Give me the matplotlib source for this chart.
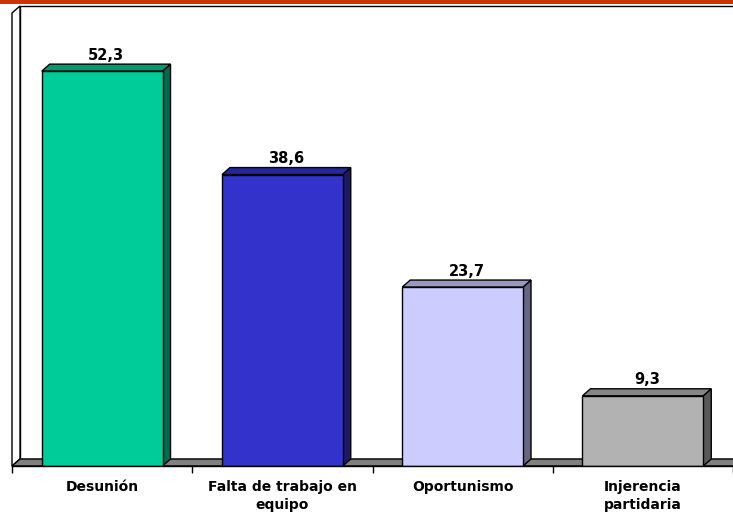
import matplotlib
matplotlib.use('Agg')
import matplotlib.pyplot as plt
from matplotlib.patches import Polygon, Rectangle
import numpy as np

categories = ['Desunión', 'Falta de trabajo en\nequipo', 'Oportunismo', 'Injerencia\npartidaria']
values = [52.3, 38.6, 23.7, 9.3]
labels = ['52,3', '38,6', '23,7', '9,3']

front_colors = ['#00CC99', '#3333CC', '#CCCCFF', '#B2B2B2']
side_colors = ['#006B50', '#1A1A66', '#666680', '#595959']
top_colors = ['#009A73', '#26269A', '#9999BF', '#868686']

plt.rcParams.update({
    'font.family': 'DejaVu Sans',
    'font.weight': 'bold',
})

W, H = 733, 516
fig = plt.figure(figsize=(W / 100, H / 100), dpi=100)
fig.patch.set_facecolor('white')

# plot area in pixels: left 12, right 733, floor front at 466, top of scale at 13
ax = fig.add_axes([12 / W, 50 / H, 721 / W, 453 / H])
ax.set_xlim(-0.5, 3.5)
ax.set_ylim(0, 60)
ax.set_facecolor('none')

# depth of the 3d effect in data units (8 px right, 7 px up)
px_x = 721 / 4.0
px_y = 453 / 60.0
ddx = 8 / px_x
ddy = 7 / px_y

# back wall, side wall and floor
ax.add_patch(Rectangle((-0.5 + ddx, ddy), 4.0, 60, facecolor='white',
                       edgecolor='black', lw=1, clip_on=False, zorder=0))
ax.add_patch(Polygon([(-0.5, 0), (-0.5, 60), (-0.5 + ddx, 60 + ddy), (-0.5 + ddx, ddy)],
                     closed=True, facecolor='white', edgecolor='black', lw=1,
                     clip_on=False, zorder=1))
ax.add_patch(Polygon([(-0.5, 0), (3.5, 0), (3.5 + ddx, ddy), (-0.5 + ddx, ddy)],
                     closed=True, facecolor='#808080', edgecolor='black', lw=1,
                     clip_on=False, zorder=1))

x = np.arange(len(values))
w = 0.67
ax.bar(x, values, width=w, color=front_colors, edgecolor='black', lw=1, zorder=3)

for xi, v, sc, tc, lab in zip(x, values, side_colors, top_colors, labels):
    r = xi + w / 2
    l = xi - w / 2
    ax.add_patch(Polygon([(r, 0), (r + ddx, ddy), (r + ddx, v + ddy), (r, v)],
                         closed=True, facecolor=sc, edgecolor='black', lw=1,
                         clip_on=False, zorder=2))
    ax.add_patch(Polygon([(l, v), (l + ddx, v + ddy), (r + ddx, v + ddy), (r, v)],
                         closed=True, facecolor=tc, edgecolor='black', lw=1,
                         clip_on=False, zorder=2))
    ax.annotate(lab, (xi, v), xytext=(3, 6), textcoords='offset points',
                ha='center', va='bottom', fontsize=10.5, fontweight='bold')

for side in ['top', 'right', 'left']:
    ax.spines[side].set_visible(False)
ax.spines['bottom'].set_linewidth(1)
ax.spines['bottom'].set_zorder(4)

ax.set_yticks([])
ax.set_xticks(x)
ax.set_xticklabels(categories, fontsize=10, fontweight='bold', linespacing=1.4)
ax.set_xticks(np.arange(-0.5, 4.0, 1.0), minor=True)
ax.tick_params(axis='x', which='major', length=0, pad=10)
ax.tick_params(axis='x', which='minor', length=5, width=1, direction='out')

# title band across the top
fig.patches.append(Rectangle((0, 1 - 4 / H), 1, 4 / H, transform=fig.transFigure,
                             facecolor='#CC3300', edgecolor='none', zorder=10))

fig.savefig('out.png', dpi=100)
